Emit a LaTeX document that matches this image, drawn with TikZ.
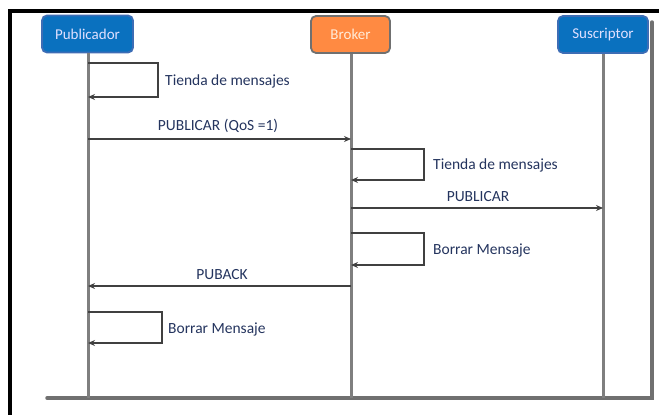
\documentclass[tikz,border=0pt]{standalone}
\usepackage{fontspec}
\setmainfont{Carlito}
\usetikzlibrary{arrows.meta}
\definecolor{hdblue}{HTML}{0A71BF}
\definecolor{hdblueb}{HTML}{3D6DB5}
\definecolor{hdorange}{HTML}{FF8A42}
\definecolor{hdgray}{HTML}{707070}
\definecolor{lifegray}{HTML}{7F7F7F}
\definecolor{txt}{HTML}{24345E}
\tikzset{
  actor/.style={draw, line width=1.8pt, rounded corners=5pt, minimum height=37pt, inner sep=0pt, font=\fontsize{15}{17}\selectfont},
  lifeline/.style={draw=lifegray, line width=3pt},
  frame/.style={draw=hdgray, line width=3.5pt},
  msg/.style={draw=black!75, line width=1.8pt, -{Stealth[length=7pt,width=6pt]}},
  lbl/.style={text=txt, font=\fontsize{15.5}{17}\selectfont, inner sep=1pt},
}
\begin{document}
\begin{tikzpicture}[x=1pt,y=-1pt]
\useasboundingbox (0,0) rectangle (659,415);
% outer black border
\draw[line width=3.5pt, black] (10,415) -- (10,11) -- (659,11);
% gray frame
\draw[frame, line cap=round] (47,398) -- (652,398) -- (652,22);
% actors
\node[actor, fill=hdblue, draw=hdblueb, text=white!88!blue, minimum width=91pt] (pub) at (87.5,34) {Publicador};
\node[actor, fill=hdorange, draw=hdgray, text=white!85!orange, minimum width=79pt] (bro) at (350.5,34.5) {Broker};
\node[actor, fill=hdblue, draw=hdblueb, text=white!88!blue, minimum width=90pt] (sus) at (603,34.5) {Suscriptor};
% lifeline ends
\coordinate (pubend) at (88,398);
\coordinate (broend) at (351,398);
\coordinate (susend) at (603,398);
\draw[lifeline] (pub.south -| pubend) -- (pubend);
\draw[lifeline] (bro.south -| broend) -- (broend);
\draw[lifeline] (sus.south -| susend) -- (susend);
% message points
\coordinate (p1a) at (88,63);   \coordinate (p1b) at (88,97);
\coordinate (m1p) at (88,139);  \coordinate (m1b) at (351,139);
\coordinate (b1a) at (351,149); \coordinate (b1b) at (351,180);
\coordinate (m2b) at (351,208); \coordinate (m2s) at (603,208);
\coordinate (b2a) at (351,233); \coordinate (b2b) at (351,265);
\coordinate (m3b) at (351,286); \coordinate (m3p) at (88,286);
\coordinate (p2a) at (88,312);  \coordinate (p2b) at (88,343);
% self loops and messages
\draw[msg] (p1a) -- ++(70,0) |- (p1b);
\node[lbl, anchor=west] (t1) at (164,81) {Tienda de mensajes};
\draw[msg] (m1p) -- (m1b);
\node[lbl, anchor=south] (t2) at (218,134) {PUBLICAR (QoS =1)};
\draw[msg] (b1a) -- ++(73,0) |- (b1b);
\node[lbl, anchor=west] (t3) at (432,165) {Tienda de mensajes};
\draw[msg] (m2b) -- (m2s);
\node[lbl, anchor=south] (t4) at (478,203) {PUBLICAR};
\draw[msg] (b2a) -- ++(73,0) |- (b2b);
\node[lbl, anchor=west] (t5) at (432,250) {Borrar Mensaje};
\draw[msg] (m3b) -- (m3p);
\node[lbl, anchor=south] (t6) at (222,281) {PUBACK};
\draw[msg] (p2a) -- ++(74,0) |- (p2b);
\node[lbl, anchor=west] (t7) at (167,329) {Borrar Mensaje};
\end{tikzpicture}
\end{document}
